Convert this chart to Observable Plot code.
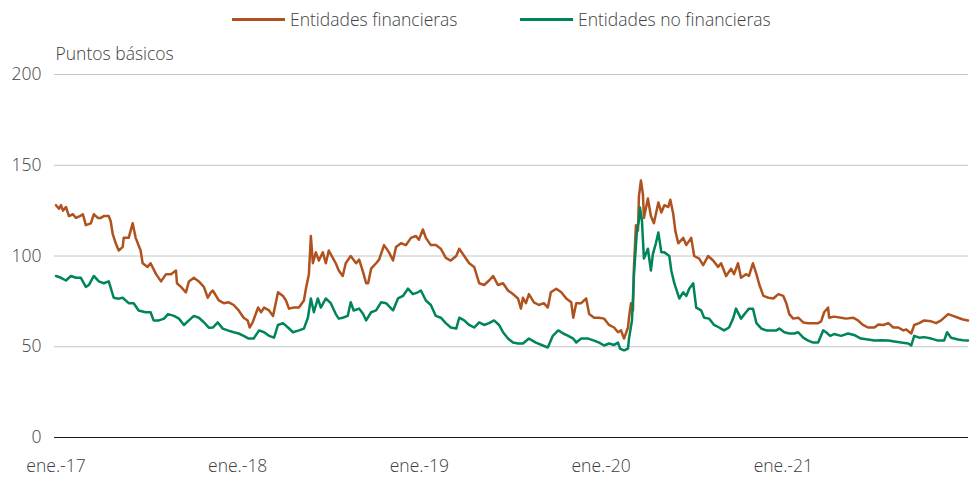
<!DOCTYPE html>
<html>
<head>
<meta charset="utf-8">
<script src="https://cdn.jsdelivr.net/npm/d3@7"></script>
<script src="https://cdn.jsdelivr.net/npm/@observablehq/plot@0.6"></script>
<style>
  body { margin: 0; background: #fff; font-family: "Open Sans", "Noto Sans", sans-serif; color: #404040; }
  #wrap { width: 970px; height: 495px; position: relative; }
  #legend { height: 40px; position: relative; font-size: 17.5px; font-weight: 300; }
  .item { position: absolute; top: 7px; display: flex; align-items: center; white-space: nowrap; }
  .swatch { width: 53px; height: 3px; margin-right: 5px; }
</style>
</head>
<body>
<div id="wrap">
  <div id="legend"></div>
  <div id="chart"></div>
</div>
<script>
// Series names and colours
const seriesNames = ["Entidades financieras", "Entidades no financieras"];
const seriesColors = ["#b0521e", "#00845c"];

// Entidades financieras: days since 2017-01-01 and spread (puntos básicos)
const finDays = [0,6,10,14,20,26,34,40,48,54,60,70,76,84,90,96,106,110,114,120,126,134,136,146,154,160,170,174,184,190,201,211,221,231,241,243,251,261,267,277,287,297,305,311,315,327,337,347,357,367,377,385,389,395,406,412,418,428,436,446,456,462,468,478,488,498,502,508,512,516,522,528,536,542,548,556,562,568,576,582,592,603,609,617,623,627,633,643,649,659,669,677,683,693,703,713,723,729,737,743,753,763,773,783,793,804,810,820,830,840,850,860,870,878,888,898,908,918,928,934,938,944,950,960,970,980,988,994,1005,1015,1025,1035,1039,1045,1055,1065,1071,1081,1091,1101,1111,1121,1129,1135,1141,1149,1151,1155,1159,1161,1165,1169,1171,1175,1179,1181,1189,1195,1201,1210,1216,1222,1230,1234,1240,1244,1250,1260,1266,1276,1282,1292,1300,1310,1320,1330,1336,1346,1356,1362,1370,1376,1386,1392,1400,1407,1413,1421,1431,1441,1451,1461,1467,1473,1481,1491,1501,1511,1521,1531,1537,1543,1551,1553,1563,1577,1587,1601,1611,1621,1631,1644,1652,1662,1672,1682,1692,1702,1708,1718,1724,1734,1744,1758,1768,1778,1792,1802,1812,1822,1832];
const finValues = [128,126,128,125,127,122,123,121,122,123,117,118,123,121,121,122,122,119,112,107,103,105,110,110,118,110,103,96,94,96,90,86,90,90,92,85,83,80,86,88,86,83,77,80,81,75.5,74,74.5,73,70,66,64.5,60.6,63.4,71.6,69,71.6,70,67,80,78,75.5,71,71.6,71.6,75.5,82,90,111,96,102,97.5,102,96,103,99,96,92,89,96,100,96,98,91,85,85,93,96,98,106,102,97.5,105,107,106,110,111,109,114.6,110,106,106,104,99,97.5,100,104,100,96,94,85,84,86.5,89,84,85,81,79,76.6,71,77,74,79,74.5,73,74,71.6,80,82,80,76.6,74.5,66,74,74,76.6,68,66,66,65.5,62,60.6,58,59,54.5,60.6,66,74,70,94,117,114,133,141.6,134,121,131.7,122,118,129.5,124,128,127,131,123,114,107,110,106,110,100,98.6,95,100,97.5,94,96,89,93,90,96,88,90,89,96,90,84,78,77,76.6,79,78,74,68,65.5,66,63.4,63,63,63,64,69,71.6,66,66.6,66,65.5,66,64.5,62,60.6,60.6,62.3,62,63,60.6,60.6,59,59.5,57.3,62,63,64.5,64,63,64.5,68,67,66,65,64.5];

// Entidades no financieras: days since 2017-01-01 and spread (puntos básicos)
const nofinDays = [0,10,20,30,40,50,60,66,76,86,96,106,116,126,134,146,156,166,180,190,196,207,217,225,237,247,257,267,277,287,297,307,315,325,335,345,357,367,377,387,397,408,418,428,438,446,456,466,476,488,498,506,512,518,526,532,542,552,562,568,576,586,592,598,609,617,623,633,643,653,663,677,687,697,707,717,727,733,743,753,763,773,783,793,804,810,820,830,840,850,860,870,880,890,898,908,918,928,938,950,964,978,988,998,1009,1019,1029,1039,1045,1055,1069,1081,1091,1101,1111,1121,1129,1133,1141,1149,1151,1157,1161,1167,1171,1173,1177,1181,1189,1195,1199,1205,1210,1216,1222,1232,1236,1242,1252,1260,1266,1272,1280,1286,1296,1302,1312,1322,1332,1342,1352,1360,1366,1376,1386,1392,1400,1407,1417,1427,1437,1447,1453,1463,1473,1483,1491,1501,1511,1521,1531,1541,1547,1555,1563,1577,1591,1603,1617,1631,1644,1658,1672,1684,1698,1712,1718,1724,1734,1744,1758,1772,1784,1790,1798,1812,1822,1832];
const nofinValues = [89,88,86.5,89,88,88,83,84,89,86,85,86,77,76.5,77,74,74,70,69,69,64.5,64.5,65.5,68,67,65.5,62,64.5,67,66,63.5,60.5,60.6,63.4,60,59,58,57.3,56,54.5,54.5,59,58,56,55,62,63,60.6,58,59,60,66,76.6,69,76.6,71.6,76.6,74,68,65.5,66,67,74.5,70,71,68,64.5,69,70,74.5,74,70,76.6,78,82,79,80,81,75.5,73,67,66,63,60.6,60,66,64.5,62,60.6,63.4,62,63,64.5,62,58,54.5,52.3,51.8,51.8,54.5,52.3,50.7,49.6,56,59,57.3,56,54.5,52.3,54.5,54.5,53.4,52.3,50.7,51.8,51,52.3,49,48,49,54.5,64.5,90,114,119.6,126.7,119.6,98.6,104,92,101,107,113,102,102,100,92,85,76.6,80,78,82,85,71.6,70,66,65.5,62,60.6,59,60.6,65.5,71,65.5,69,71,71,63,60,59,59,59,60,58,57.3,57.3,58,55,53.4,52.3,52.3,59,58,56,57,56,57.3,56.5,54.5,54,53.4,53.6,53.4,52.9,52.3,51.8,50.7,56,55,55.3,54.5,53.4,53.4,58,55,54,53.6,53.4];

// Axis ticks
const yTicks = [0, 50, 100, 150, 200];
const xTickYears = [2017, 2018, 2019, 2020, 2021];
const yLabel = "Puntos básicos";

const base = Date.UTC(2017, 0, 1);
const toDate = d => new Date(base + d * 864e5);
const rows = [
  ...finDays.map((d, i) => ({date: toDate(d), value: finValues[i], serie: seriesNames[0]})),
  ...nofinDays.map((d, i) => ({date: toDate(d), value: nofinValues[i], serie: seriesNames[1]}))
];

// Legend
const legend = document.getElementById("legend");
const legendLeft = [232, 520];
seriesNames.forEach((name, i) => {
  const it = document.createElement("div");
  it.className = "item";
  it.style.left = legendLeft[i] + "px";
  it.innerHTML = `<span class="swatch" style="background:${seriesColors[i]}"></span><span>${name}</span>`;
  legend.appendChild(it);
});

const chart = Plot.plot({
  width: 970,
  height: 455,
  marginLeft: 54,
  marginRight: 2,
  marginTop: 34,
  marginBottom: 58,
  style: {fontFamily: "'Open Sans', 'Noto Sans', sans-serif", fontSize: "17.5px", fontWeight: 300, color: "#404040", background: "#fff"},
  x: {type: "utc", domain: [new Date(Date.UTC(2016, 11, 29)), new Date(Date.UTC(2022, 0, 8))]},
  y: {domain: [0, 200]},
  color: {domain: seriesNames, range: seriesColors},
  marks: [
    Plot.ruleY(yTicks.filter(t => t > 0), {stroke: "#c4c4c4", strokeWidth: 1}),
    Plot.ruleY([0], {stroke: "#1a1a1a", strokeWidth: 1.2}),
    Plot.axisY({ticks: yTicks, tickSize: 0, tickPadding: 13, label: null, fontSize: 17.5}),
    Plot.axisX({ticks: xTickYears.map(y => new Date(Date.UTC(y, 0, 1))), tickSize: 0, tickPadding: 22,
      tickFormat: d => "ene.-" + String(d.getUTCFullYear()).slice(2), label: null, fontSize: 17.5}),
    Plot.text([yLabel], {frameAnchor: "top-left", dy: -27, dx: 1, textAnchor: "start", text: d => d, fontSize: 17.5, fill: "#404040"}),
    Plot.lineY(rows, {x: "date", y: "value", z: "serie", stroke: "serie", strokeWidth: 2.5, curve: "linear"})
  ]
});
document.getElementById("chart").appendChild(chart);
</script>
</body>
</html>
